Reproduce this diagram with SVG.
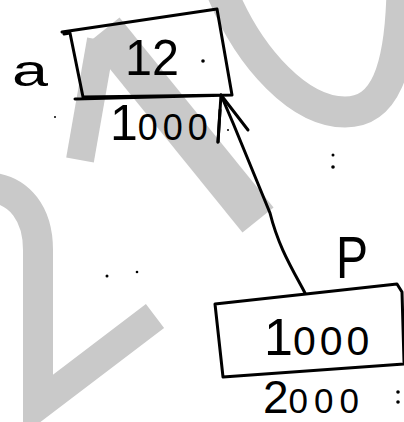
<svg xmlns="http://www.w3.org/2000/svg" width="404" height="422" viewBox="0 0 404 422">
<style>
.wm{fill:none;stroke:#c9c9c9;stroke-linecap:butt;stroke-linejoin:miter}
.box{fill:none;stroke:#000;stroke-width:3;stroke-linejoin:round;stroke-linecap:round}
.ln{fill:none;stroke:#000;stroke-width:3;stroke-linecap:round;stroke-linejoin:round}
.t{font-family:"Liberation Sans",Arial,sans-serif;fill:#000}
.dot{fill:#000}
</style>
<rect width="404" height="422" fill="#fff"/>
<g id="watermark">
  <path class="wm" stroke-width="28" d="M101,40 L80,160"/>
  <path class="wm" stroke-width="40" d="M104,30 L258,220"/>
  <path class="wm" stroke-width="31" d="M222,-8 C250,60 300,112 345,112 C385,112 400,70 402,-8"/>
  <path class="wm" stroke-width="30" d="M-5,188 C18,192 38,212 38,250 L38,405 L155,316"/>
</g>
<g id="connectors">
  <path class="ln" d="M305,293 C290,265 278,245 270,213 L233,123 L221,95"/>
  <path class="ln" d="M218,142 L221,95 L248,130" stroke-width="3.5"/>
  <path class="ln" d="M218,142 L220,110" stroke-width="5"/>
</g>
<g id="node-a">
  <path class="box" d="M62,32 L217,9 L232,95 L75,99 M232,95 L83,97 L70,33 L64,34"/>
  <text class="t" x="12" y="86" font-size="44" textLength="36" lengthAdjust="spacingAndGlyphs">a</text>
  <text class="t" x="125" y="75" font-size="50" textLength="54" lengthAdjust="spacingAndGlyphs">12</text>
  <circle class="dot" cx="203" cy="61" r="1.8"/>
  <text class="t" x="110" y="140"><tspan font-size="50">1</tspan><tspan font-size="36" letter-spacing="5">000</tspan></text>
</g>
<g id="node-p">
  <text class="t" x="336" y="278" font-size="60" textLength="32" lengthAdjust="spacingAndGlyphs">P</text>
  <path class="box" d="M215,304 L397,284 L402,292 L404,362 M404,364 L223,377 L215,304"/>
  <text class="t" x="264" y="355"><tspan font-size="52">1</tspan><tspan font-size="41" letter-spacing="4">000</tspan></text>
  <text class="t" x="263" y="413"><tspan font-size="46">2</tspan><tspan font-size="35" letter-spacing="6">000</tspan></text>
  <circle class="dot" cx="398" cy="392" r="1.8"/>
  <circle class="dot" cx="398" cy="402" r="1.8"/>
</g>
<g id="specks">
  <circle class="dot" cx="333" cy="155" r="1.5"/>
  <circle class="dot" cx="333" cy="167" r="1.8"/>
  <circle class="dot" cx="107" cy="276" r="1.5"/>
  <circle class="dot" cx="137" cy="272" r="1.3"/>
  <circle class="dot" cx="55" cy="117" r="1"/>
  <circle class="dot" cx="228" cy="130" r="1"/>
</g>
</svg>
